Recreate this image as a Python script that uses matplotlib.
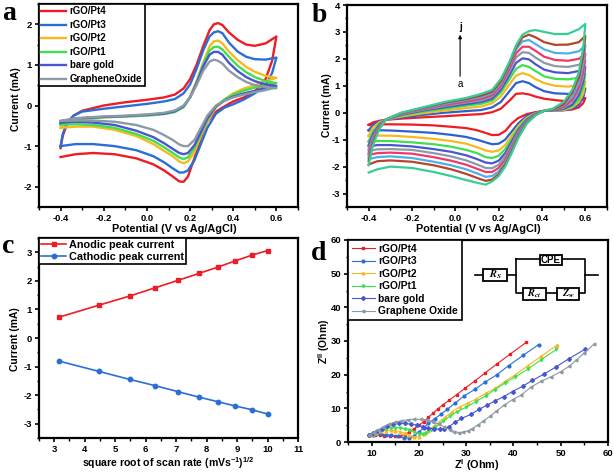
import numpy as np
import matplotlib
matplotlib.use('Agg')
import matplotlib.pyplot as plt
from matplotlib.patches import Rectangle
from matplotlib.ticker import AutoMinorLocator

plt.rcParams['font.family'] = ['Liberation Sans', 'DejaVu Sans']
plt.rcParams['font.weight'] = 'bold'
plt.rcParams['mathtext.default'] = 'regular'
plt.rcParams['axes.unicode_minus'] = False

W, H = 614, 472

# panel a, shared potentials for the two sweep directions
a_up_x = [-0.4, -0.39, -0.37, -0.34, -0.3, -0.2, -0.1, 0, 0.08, 0.13, 0.17, 0.2, 0.23, 0.26, 0.29, 0.31, 0.33, 0.35, 0.38, 0.42, 0.46, 0.5, 0.55, 0.6]
a_down_x = [0.6, 0.58, 0.55, 0.5, 0.45, 0.4, 0.36, 0.32, 0.28, 0.25, 0.22, 0.19, 0.17, 0.15, 0.12, 0.08, 0.03, -0.05, -0.15, -0.25, -0.33, -0.4]

pt4_up = [-1.05, -.75, -.45, -.25, -.13, 0, .08, .14, .2, .27, .42, .65, 1.0, 1.45, 1.85, 2.0, 2.03, 1.98, 1.8, 1.62, 1.5, 1.47, 1.53, 1.7]
pt3_up = [-1.0, -.7, -.42, -.25, -.15, -.08, -.02, .04, .1, .16, .3, .52, .9, 1.35, 1.7, 1.8, 1.83, 1.78, 1.55, 1.33, 1.2, 1.14, 1.13, 1.18]
pt2_up = [-.55, -.5, -.43, -.37, -.33, -.29, -.27, -.24, -.2, -.15, -.02, .22, .6, 1.05, 1.45, 1.58, 1.6, 1.53, 1.33, 1.12, .95, .83, .73, .68]
pt1_up = [-.47, -.44, -.39, -.35, -.32, -.29, -.27, -.25, -.21, -.16, -.04, .2, .56, 1.0, 1.35, 1.44, 1.45, 1.38, 1.2, .98, .82, .7, .6, .55]
gold_up = [-.42, -.4, -.36, -.33, -.31, -.28, -.26, -.23, -.2, -.14, -.02, .2, .55, .95, 1.25, 1.32, 1.32, 1.25, 1.05, .85, .7, .6, .52, .48]
go_up = [-.38, -.37, -.35, -.32, -.3, -.27, -.25, -.22, -.18, -.12, .0, .2, .5, .85, 1.08, 1.13, 1.1, 1.03, .86, .7, .58, .5, .45, .43]

pt4_down = [1.7, 1.1, .65, .35, .2, .1, -.02, -.15, -.4, -.8, -1.3, -1.75, -1.88, -1.87, -1.75, -1.6, -1.45, -1.3, -1.2, -1.17, -1.2, -1.27]
pt3_down = [1.18, .8, .5, .3, .15, .03, -.05, -.2, -.55, -.95, -1.35, -1.6, -1.65, -1.65, -1.55, -1.4, -1.25, -1.1, -1.0, -.95, -.95, -1.0]
pt2_down = [.68, .65, .6, .5, .42, .3, .15, -.05, -.4, -.75, -1.15, -1.38, -1.42, -1.38, -1.25, -1.12, -.95, -.75, -.6, -.52, -.52, -.55]
pt1_down = [.55, .53, .5, .44, .37, .27, .15, -.02, -.35, -.7, -1.05, -1.28, -1.32, -1.28, -1.17, -1.03, -.87, -.7, -.55, -.48, -.46, -.47]
gold_down = [.48, .46, .42, .36, .3, .22, .12, -.02, -.32, -.65, -.98, -1.17, -1.2, -1.17, -1.07, -.93, -.78, -.62, -.48, -.42, -.4, -.42]
go_down = [.43, .42, .38, .33, .27, .2, .12, .0, -.25, -.55, -.85, -1.0, -1.0, -.96, -.85, -.73, -.6, -.48, -.4, -.37, -.37, -.38]

a_labels = ['rGO/Pt4', 'rGO/Pt3', 'rGO/Pt2', 'rGO/Pt1', 'bare gold', 'GrapheneOxide']
a_colors = ['#ee1c25', '#2a6fd6', '#f7b921', '#3fe04f', '#4a55d0', '#8b9aa5']
a_up = [pt4_up, pt3_up, pt2_up, pt1_up, gold_up, go_up]
a_down = [pt4_down, pt3_down, pt2_down, pt1_down, gold_down, go_down]

# panel b, scan rate series a..j
b_up_x = [-0.4, -0.38, -0.35, -0.32, -0.25, -0.15, -0.05, 0.05, 0.12, 0.17, 0.21, 0.25, 0.28, 0.31, 0.34, 0.37, 0.41, 0.46, 0.52, 0.57, 0.6]
b_down_x = [0.6, 0.59, 0.57, 0.54, 0.5, 0.45, 0.41, 0.37, 0.33, 0.29, 0.26, 0.23, 0.2, 0.17, 0.14, 0.1, 0.05, -0.02, -0.1, -0.2, -0.3, -0.36, -0.4]

b_up = [
    [-.45, -.36, -.3, -.26, -.22, -.17, -.13, -.08, -.05, .02, .15, .45, .7, .72, .68, .6, .52, .47, .42, .45, .55],
    [-.65, -.45, -.32, -.26, -.18, -.08, .0, .06, .1, .2, .4, .8, 1.1, 1.17, 1.1, .95, .8, .72, .7, .75, .9],
    [-.85, -.55, -.35, -.26, -.14, -.02, .08, .17, .23, .35, .6, 1.05, 1.38, 1.47, 1.4, 1.25, 1.1, 1.0, .97, 1.02, 1.15],
    [-1.05, -.7, -.4, -.26, -.1, .04, .15, .26, .33, .45, .75, 1.25, 1.63, 1.77, 1.7, 1.55, 1.35, 1.26, 1.24, 1.3, 1.45],
    [-1.2, -.8, -.43, -.26, -.08, .08, .2, .32, .4, .52, .85, 1.4, 1.85, 2.02, 1.98, 1.8, 1.6, 1.5, 1.47, 1.55, 1.7],
    [-1.35, -.9, -.47, -.26, -.06, .11, .25, .38, .46, .6, .95, 1.55, 2.05, 2.25, 2.22, 2.05, 1.85, 1.73, 1.7, 1.78, 1.95],
    [-1.5, -.98, -.5, -.25, -.04, .14, .29, .42, .52, .65, 1.02, 1.65, 2.2, 2.45, 2.45, 2.3, 2.08, 1.96, 1.93, 2.0, 2.2],
    [-1.65, -1.05, -.54, -.25, -.02, .16, .33, .47, .58, .72, 1.1, 1.75, 2.35, 2.65, 2.7, 2.55, 2.35, 2.22, 2.2, 2.28, 2.5],
    [-1.8, -1.12, -.57, -.25, -.01, .18, .37, .51, .64, .78, 1.17, 1.82, 2.42, 2.8, 2.9, 2.8, 2.62, 2.52, 2.53, 2.62, 2.85],
    [-1.95, -1.2, -.6, -.25, -.0, .2, .4, .55, .7, .85, 1.25, 1.9, 2.5, 2.9, 3.03, 3.07, 3.0, 2.92, 2.93, 3.1, 3.3],
]
b_down = [
    [.55, .35, .2, .12, .09, .08, .07, .02, -.05, -.2, -.4, -.68, -.82, -.83, -.75, -.65, -.57, -.52, -.47, -.44, -.43, -.43, -.45],
    [.9, .55, .3, .16, .1, .08, .07, .0, -.12, -.4, -.7, -1.0, -1.15, -1.17, -1.1, -1.0, -.9, -.82, -.75, -.7, -.66, -.65, -.65],
    [1.15, .7, .4, .2, .1, .08, .07, -.02, -.18, -.5, -.85, -1.2, -1.4, -1.45, -1.4, -1.28, -1.15, -1.05, -.97, -.9, -.85, -.85, -.87],
    [1.45, .95, .5, .25, .12, .08, .07, -.03, -.22, -.58, -.98, -1.35, -1.6, -1.68, -1.65, -1.5, -1.38, -1.26, -1.17, -1.1, -1.05, -1.05, -1.08],
    [1.7, 1.15, .65, .3, .14, .09, .07, -.04, -.26, -.65, -1.08, -1.5, -1.78, -1.88, -1.85, -1.72, -1.58, -1.45, -1.35, -1.25, -1.2, -1.2, -1.25],
    [1.95, 1.35, .8, .42, .18, .1, .07, -.05, -.3, -.72, -1.18, -1.62, -1.93, -2.06, -2.05, -1.92, -1.77, -1.62, -1.5, -1.38, -1.35, -1.36, -1.42],
    [2.2, 1.55, .95, .5, .22, .11, .07, -.06, -.32, -.78, -1.27, -1.75, -2.05, -2.2, -2.2, -2.08, -1.93, -1.78, -1.65, -1.52, -1.48, -1.5, -1.57],
    [2.5, 1.8, 1.1, .6, .28, .12, .07, -.07, -.34, -.84, -1.35, -1.85, -2.18, -2.35, -2.38, -2.25, -2.1, -1.95, -1.82, -1.68, -1.62, -1.65, -1.72],
    [2.85, 2.1, 1.3, .75, .32, .13, .08, -.08, -.37, -.9, -1.43, -1.93, -2.28, -2.48, -2.53, -2.42, -2.27, -2.1, -1.95, -1.82, -1.77, -1.8, -1.92],
    [3.3, 2.4, 1.5, .85, .4, .15, .08, -.1, -.4, -.95, -1.5, -2.0, -2.35, -2.55, -2.67, -2.6, -2.5, -2.35, -2.2, -2.05, -2.0, -2.1, -2.22],
]
b_colors = ['#ee1c25', '#2a62d0', '#f7b921', '#3fe04f', '#4a55d0', '#8b9aa5', '#f0386b', '#4db0e8', '#b8432a', '#35cf95']

# panel c
scan_root = [3.16, 4.47, 5.48, 6.32, 7.07, 7.75, 8.37, 8.94, 9.49, 10.0]
anodic = [.73, 1.15, 1.47, 1.76, 2.02, 2.26, 2.48, 2.7, 2.9, 3.06]
cathodic = [-.81, -1.17, -1.45, -1.67, -1.88, -2.07, -2.23, -2.38, -2.51, -2.66]

# panel d, Nyquist
pt4_zr = [9.5, 10, 10.8, 11.7, 12.7, 13.8, 15, 16, 17, 18, 19, 20, 21, 22, 23, 24, 25, 26.4, 28, 29.8, 31.8, 34, 36.5, 39.3, 42.7]
pt4_zi = [2, 2, 2, 2, 1.9, 1.8, 1.7, 1.8, 2.2, 3, 4, 5, 6, 7.3, 8.6, 9.8, 11, 12.4, 14.1, 16, 18.1, 20.5, 23.2, 26.1, 29.6]
pt3_zr = [9.5, 10.2, 11, 12, 13, 14.2, 15.5, 16.8, 18, 19, 20, 21, 22, 23.3, 24.6, 26, 27.6, 29.6, 31.8, 34, 36.5, 39, 42, 45.3]
pt3_zi = [2.1, 2.2, 2.3, 2.3, 2.2, 2, 1.7, 1.3, 1.2, 1.8, 3, 4.2, 5.5, 6.9, 8.2, 9.7, 11.5, 13.7, 15.6, 17.8, 20, 22.7, 25.7, 28.9]
pt2_zr = [9.5, 10.2, 11, 12, 13, 14, 15, 16, 17, 18, 19, 20, 21, 22, 23, 24.2, 25.5, 27, 28.6, 30.4, 32, 34.2, 36.2, 38.4, 40.4, 43, 45.8, 49.2]
pt2_zi = [2.1, 2.4, 2.8, 3.2, 3.4, 3.5, 3.4, 3.1, 2.6, 2.0, 1.5, 1.6, 2.4, 3.4, 4.5, 5.9, 7.3, 9, 10.4, 11.6, 12.7, 14.5, 16, 18.2, 20, 22.6, 25.4, 28.8]
pt1_zr = [9.5, 10.2, 11, 12, 13, 14, 15, 16, 17, 18, 19, 20, 20.8, 21.6, 22.5, 23.5, 25, 26.5, 28, 30, 32, 34.2, 36, 38.2, 40.4, 43, 45.8, 49.1]
pt1_zi = [2, 2.4, 3, 3.6, 4, 4.2, 4.3, 4.2, 3.9, 3.5, 3, 2.5, 2.4, 2.7, 3.5, 4.5, 6.1, 7.6, 9, 10.3, 12, 13.8, 15.5, 17.5, 19.4, 21.6, 24.4, 27.5]
gold_zr = [9.5, 10.3, 11.2, 12.2, 13.3, 14.5, 15.8, 17, 18.3, 19.6, 20.8, 22, 23.2, 24.4, 25.4, 26.4, 27.6, 29, 31, 32.7, 34.5, 36.2, 38, 39.8, 42, 44, 46.5, 49, 51.8, 55.2]
gold_zi = [2.1, 2.6, 3.3, 4, 4.7, 5.2, 5.5, 5.5, 5.3, 5, 4.6, 4.2, 3.9, 3.8, 4, 4.6, 5.8, 7, 8.2, 9.7, 11, 12.3, 13.5, 15, 16.6, 18.3, 20.2, 22.3, 24.8, 27.6]
go_zr = [9.5, 10.4, 11.4, 12.5, 13.7, 15, 16.3, 17.6, 19, 20.4, 21.8, 23, 24.2, 25.4, 26.5, 27.5, 28.5, 29.4, 30.3, 31.3, 32.4, 33.6, 35, 36.4, 38, 39.8, 41.6, 43.7, 45.8, 48, 50, 51.8, 53.3, 55, 57]
go_zi = [2.1, 2.8, 3.6, 4.5, 5.3, 5.9, 6.3, 6.6, 6.8, 6.7, 6.5, 6, 5.3, 4.5, 3.7, 3.1, 2.8, 2.9, 3.3, 4, 5, 6.2, 7.6, 9.2, 10.9, 12.6, 13.9, 16.3, 18, 19.4, 20.9, 22.5, 24.3, 26.5, 29]
d_labels = ['rGO/Pt4', 'rGO/Pt3', 'rGO/Pt2', 'rGO/Pt1', 'bare gold', 'Graphene Oxide']
d_markers = ['s', 'o', '^', 'v', 'D', '<']


def make_axes(fig, left, right, top, bottom):
    # pixel box of the panel, y measured from the top of the image
    return fig.add_axes([left / W, 1 - bottom / H, (right - left) / W, (bottom - top) / H])


def style_axes(ax, xlabel, ylabel, xlim, ylim, xticks, yticks, xpos, ypos, xlabels=None, xsize=7.8):
    ax.set_xlim(xlim)
    ax.set_ylim(ylim)
    ax.set_xticks(xticks)
    ax.set_yticks(yticks)
    if xlabels is not None:
        ax.set_xticklabels(xlabels)
    ax.tick_params(labelsize=6.8, width=1.2, length=3, pad=2)
    ax.xaxis.set_minor_locator(AutoMinorLocator(2))
    ax.yaxis.set_minor_locator(AutoMinorLocator(2))
    ax.tick_params(which='minor', width=1.0, length=1.8)
    for spine in ax.spines.values():
        spine.set_linewidth(1.6)
    ax.set_xlabel(xlabel, fontsize=xsize, fontweight='bold', va='center')
    ax.set_ylabel(ylabel, fontsize=7.4, fontweight='bold', va='center')
    # label centres are given in image pixels
    ax.xaxis.set_label_coords(xpos[0] / W, 1 - xpos[1] / H, transform=fig.transFigure)
    ax.yaxis.set_label_coords(ypos[0] / W, 1 - ypos[1] / H, transform=fig.transFigure)


def legend_box(ax, fontsize, **kw):
    leg = ax.legend(loc='upper left', bbox_to_anchor=(0, 1), prop={'size': fontsize, 'weight': 'bold'},
                    fancybox=False, framealpha=1, edgecolor='black', borderaxespad=0, **kw)
    leg.get_frame().set_linewidth(1.2)
    for t in leg.get_texts():
        t.set_fontweight('bold')
    return leg


fig = plt.figure(figsize=(W / 100, H / 100), dpi=100)

# a
ax = make_axes(fig, 39, 298, 4, 207)
for lab, col, up, down in zip(a_labels, a_colors, a_up, a_down):
    ax.plot(a_up_x + a_down_x, up + down, color=col, lw=1.7, label=lab, solid_joinstyle='round')
style_axes(ax, 'Potential (V vs Ag/AgCl)', 'Current (mA)', (-0.5, 0.7), (-2.5, 2.5),
           [-0.4, -0.2, 0, 0.2, 0.4, 0.6], [-2, -1, 0, 1, 2], (174, 229), (16, 99),
           ['-0.4', '-0.2', '0.0', '0.2', '0.4', '0.6'])
legend_box(ax, 7.0, labelspacing=0.36, handlelength=2.5, handletextpad=0.4, borderpad=0.25)

# b
ax = make_axes(fig, 347, 607, 5, 207)
for up, down, col in zip(b_up, b_down, b_colors):
    ax.plot(b_up_x + b_down_x, up + down, color=col, lw=1.6, solid_joinstyle='round')
style_axes(ax, 'Potential (V vs Ag/AgCl)', 'Current (mA)', (-0.5, 0.7), (-3.5, 4),
           [-0.4, -0.2, 0, 0.2, 0.4, 0.6], [-3, -2, -1, 0, 1, 2, 3, 4], (478, 229), (327, 105),
           ['-0.4', '-0.2', '0.0', '0.2', '0.4', '0.6'])
ax.annotate('', xy=(0.022, 3.0), xytext=(0.022, 1.25),
            arrowprops=dict(arrowstyle='-|>', lw=0.8, color='black', mutation_scale=5))
ax.text(0.022, 1.05, 'a', ha='center', va='center', fontsize=7, fontweight='normal')
ax.text(0.022, 3.2, 'j', ha='center', va='center', fontsize=7)

# c
ax = make_axes(fig, 39, 298, 238, 438)
ax.plot(scan_root, anodic, '-s', color='#ee1c25', lw=1.2, ms=3.0, label='Anodic peak current')
ax.plot(scan_root, cathodic, '-o', color='#2a6fd6', lw=1.2, ms=3.2, label='Cathodic peak current')
style_axes(ax, 'square root of scan rate (mVs$^{-1}$)$^{1/2}$', 'Current (mA)', (2.5, 11), (-3.5, 3.5),
           range(3, 12), [-3, -2, -1, 0, 1, 2, 3], (168, 463), (15, 339), xsize=7.6)
legend_box(ax, 7.8, labelspacing=0.15, handlelength=2.3, handletextpad=0.3, borderpad=0.2)

# d
ax = make_axes(fig, 348, 608, 240, 442)
nyquist = [(pt4_zr, pt4_zi), (pt3_zr, pt3_zi), (pt2_zr, pt2_zi), (pt1_zr, pt1_zi), (gold_zr, gold_zi), (go_zr, go_zi)]
for (zr, zi), lab, col, mk in zip(nyquist, d_labels, a_colors, d_markers):
    ax.plot(zr, zi, '-', marker=mk, color=col, lw=0.8, ms=2.0, label=lab)
style_axes(ax, 'Z$^{I}$ (Ohm)', 'Z$^{II}$ (Ohm)', (5, 60), (0, 60),
           range(10, 61, 10), range(0, 61, 10), (477, 465), (324, 341))
legend_box(ax, 7.4, labelspacing=0.25, handlelength=2.3, handletextpad=0.3, borderpad=0.35)

# equivalent circuit inset
wire = dict(color='black', lw=1.2)
ax.plot([31.9, 40.5], [49.6, 49.6], **wire)
ax.plot([55.1, 57.9], [49.6, 49.6], **wire)
ax.plot([40.5, 55.1, 55.1, 40.5, 40.5], [54.4, 54.4, 44.3, 44.3, 54.4], **wire)
for x0, x1, y0, y1, txt, serif in [(33.6, 38.7, 47.8, 51.4, r'$\mathbfit{R}_{\mathbfit{S}}$', True),
                                   (45.6, 50.3, 52.6, 55.5, 'CPE', False),
                                   (42.0, 46.9, 42.2, 45.7, r'$\mathbfit{R}_{\mathbfit{ct}}$', True),
                                   (49.2, 53.9, 42.2, 45.7, r'$\mathbfit{Z}_{\mathbfit{w}}$', True)]:
    ax.add_patch(Rectangle((x0, y0), x1 - x0, y1 - y0, fc='white', ec='black', lw=1.3, zorder=3))
    if serif:
        ax.text((x0 + x1) / 2, (y0 + y1) / 2, txt, ha='center', va='center', fontsize=7.5, zorder=4,
                math_fontfamily='stix')
    else:
        ax.text((x0 + x1) / 2, (y0 + y1) / 2, txt, ha='center', va='center', fontsize=7, zorder=4)

# panel letters
for lab, px, py in [('a', 2, 13), ('b', 312, 16), ('c', 2, 246), ('d', 311, 254)]:
    fig.text(px / W, 1 - py / H, lab, fontsize=20, fontweight='bold', family='Liberation Serif',
             ha='left', va='center')

fig.savefig('out.png', dpi=100)
